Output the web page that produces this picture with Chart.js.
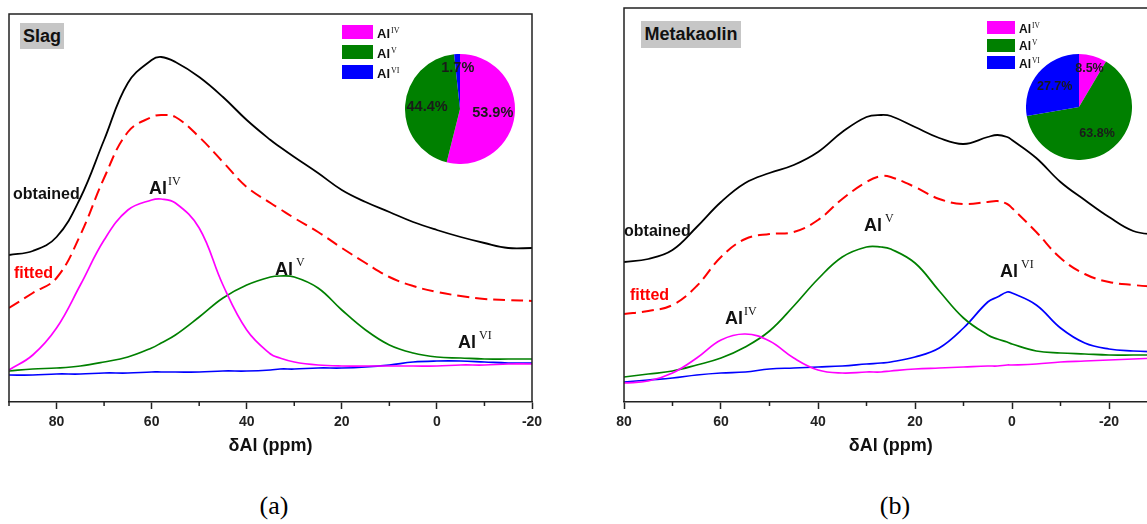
<!DOCTYPE html>
<html>
<head>
<meta charset="utf-8">
<script src="https://cdn.jsdelivr.net/npm/chart.js@4.4.1/dist/chart.umd.min.js"></script>
<style>
html, body { margin: 0; padding: 0; background: #fff; }
body { width: 1147px; height: 524px; position: relative; overflow: hidden; font-family: "Liberation Sans", Arial, sans-serif; }
canvas { position: absolute; }
.lbl { position: absolute; white-space: nowrap; line-height: 1; font-weight: bold; color: #111; }
.lbl span { font-family: "Liberation Serif", serif; font-weight: normal; position: relative; }
.tag { position: absolute; background: #c6c6c6; font-weight: bold; font-size: 18px; text-align: center; color: #111; }
.sw { position: absolute; }
.cap { position: absolute; width: 60px; text-align: center; font-family: "Liberation Serif", serif; font-size: 26px; line-height: 1; }
</style>
</head>
<body>
<canvas id="slag" width="560" height="460" style="left:0;top:0"></canvas>
<canvas id="mk" width="580" height="460" style="left:590px;top:0"></canvas>
<canvas id="slagPie" width="110" height="110" style="left:405px;top:54px"></canvas>
<canvas id="mkPie" width="106" height="106" style="left:1026px;top:54px"></canvas>
<script>
// 27Al spectra, intensity in arbitrary units above the axis
var ppmSlag = [90, 85, 80, 75, 70, 65, 60, 58, 55, 50, 45, 40, 35, 33, 30, 25, 20, 15, 10, 5, 0, -5, -10, -15, -20];
var slagObtained = [147, 151, 165, 204, 262, 319, 342, 345, 340, 325, 305, 282, 262, 255, 245, 229, 212, 200, 190, 180, 172, 165, 159, 154, 154];
var slagFitted = [94, 109, 124, 167, 224, 270, 285, 287, 285, 265, 240, 215, 199, 193, 184, 170, 154, 139, 125, 116, 110, 106, 103, 102, 101];
var slagAl4 = [32, 47, 74, 117, 162, 192, 202, 203, 199, 174, 117, 72, 48, 44, 40, 37, 36, 36, 36, 36, 36, 37, 37, 38, 38];
var slagAl5 = [31, 33, 34, 36, 40, 45, 54, 59, 67, 85, 104, 117, 125, 126, 125, 114, 92, 72, 57, 49, 45, 44, 43, 43, 43];
var slagAl6 = [27, 27, 28, 28, 29, 29, 30, 30, 30, 30, 31, 31, 32, 33, 33, 34, 34, 35, 37, 40, 41, 41, 40, 39, 39];

var ppmMk = [80, 75, 70, 65, 60, 55, 50, 45, 40, 35, 30, 27, 25, 20, 15, 10, 5, 3, 1, 0, -5, -10, -15, -20, -25, -30];
var mkObtained = [140, 143, 152, 175, 200, 219, 229, 237, 250, 270, 285, 287, 286, 275, 264, 258, 265, 267, 265, 262, 244, 220, 202, 185, 171, 167];
var mkFitted = [88, 91, 97, 116, 145, 163, 168, 170, 182, 203, 220, 226, 225, 215, 203, 198, 200, 201, 198, 194, 170, 144, 128, 120, 117, 115];
var mkAl4 = [19, 21, 29, 44, 62, 68, 61, 44, 32, 29, 30, 30, 31, 33, 34, 35, 36, 36, 37, 37, 38, 40, 41, 42, 43, 44];
var mkAl5 = [25, 28, 31, 37, 44, 55, 71, 96, 123, 145, 155, 155, 153, 139, 111, 84, 67, 63, 60, 58, 51, 49, 48, 47, 47, 47];
var mkAl6 = [20, 22, 24, 27, 29, 30, 33, 34, 35, 36, 38, 39, 40, 45, 54, 74, 100, 105, 110, 109, 97, 74, 59, 53, 51, 50];

// share of each Al site (%)
var sites = ['IV', 'V', 'VI'];
var slagShares = [53.9, 44.4, 1.7];
var mkShares = [8.5, 63.8, 27.7];

var siteColors = ['#ff00ff', '#008000', '#0000ff'];
var curveStyle = [
    { color: '#000000', width: 1.8, dash: [] },
    { color: '#ff0000', width: 2, dash: [12, 6] },
    { color: '#ff00ff', width: 1.7, dash: [] },
    { color: '#008000', width: 1.7, dash: [] },
    { color: '#0000ff', width: 1.7, dash: [] }
];

// left/top/right box plus short minor ticks
var frame = {
    id: 'frame',
    afterDraw: function(chart) {
        var a = chart.chartArea, c = chart.ctx, x = chart.scales.x;
        c.save();
        c.strokeStyle = '#222';
        c.lineWidth = 1.5;
        c.beginPath();
        c.moveTo(a.left, a.bottom);
        c.lineTo(a.left, a.top);
        c.lineTo(a.right, a.top);
        c.lineTo(a.right, a.bottom);
        c.stroke();
        x.ticks.forEach(function(t) {
            if (t.value % 20 === 0) return;
            var px = x.getPixelForValue(t.value);
            c.beginPath();
            c.moveTo(px, a.bottom);
            c.lineTo(px, a.bottom + 4);
            c.stroke();
        });
        c.restore();
    }
};

function spectrum(id, ppm, curves, xmin, xmax, ymax, pad) {
    var sets = curves.map(function(vals, i) {
        var s = curveStyle[i];
        return {
            data: vals,
            borderColor: s.color,
            borderWidth: s.width,
            borderDash: s.dash,
            pointRadius: 0,
            fill: false,
            tension: 0.4
        };
    });
    return new Chart(document.getElementById(id), {
        type: 'line',
        data: { labels: ppm, datasets: sets },
        options: {
            responsive: false,
            animation: false,
            events: [],
            layout: { padding: pad },
            plugins: { legend: { display: false }, tooltip: { enabled: false } },
            scales: {
                x: {
                    type: 'linear',
                    reverse: true,
                    min: xmin,
                    max: xmax,
                    afterFit: function(s) { s.height = 58; },
                    ticks: {
                        stepSize: 10,
                        autoSkip: false,
                        maxRotation: 0,
                        padding: 5,
                        color: '#222',
                        font: { family: 'Liberation Sans', weight: 'bold', size: 14 },
                        callback: function(v) { return v % 20 === 0 ? String(v) : ''; }
                    },
                    grid: {
                        drawOnChartArea: false,
                        tickLength: 7,
                        tickWidth: 1.5,
                        tickColor: function(ctx) {
                            return ctx.tick && ctx.tick.value % 20 === 0 ? '#222' : 'rgba(0,0,0,0)';
                        }
                    },
                    border: { display: true, color: '#222', width: 1.5 },
                    title: {
                        display: true,
                        text: 'δAl (ppm)',
                        color: '#111',
                        font: { family: 'Liberation Sans', weight: 'bold', size: 18 },
                        padding: { top: 0, bottom: 3 }
                    }
                },
                y: { display: false, min: 0, max: ymax }
            }
        },
        plugins: [frame]
    });
}

// percentages written inside the slices
function pieText(size) {
    return {
        id: 'pieText',
        afterDatasetsDraw: function(chart) {
            var c = chart.ctx, vals = chart.data.datasets[0].data;
            c.save();
            c.fillStyle = '#1a1a1a';
            c.font = 'bold ' + size + 'px "Liberation Sans"';
            c.textAlign = 'center';
            c.textBaseline = 'middle';
            chart.getDatasetMeta(0).data.forEach(function(arc, i) {
                var mid = (arc.startAngle + arc.endAngle) / 2;
                var f = vals[i] < 10 ? 0.75 : 0.6;
                c.fillText(vals[i].toFixed(1) + '%',
                    arc.x + Math.cos(mid) * arc.outerRadius * f,
                    arc.y + Math.sin(mid) * arc.outerRadius * f);
            });
            c.restore();
        }
    };
}

function pie(id, shares, size) {
    return new Chart(document.getElementById(id), {
        type: 'pie',
        data: {
            labels: sites.map(function(s) { return 'Al' + s; }),
            datasets: [{ data: shares, backgroundColor: siteColors, borderWidth: 0 }]
        },
        options: {
            responsive: false,
            animation: false,
            events: [],
            plugins: { legend: { display: false }, tooltip: { enabled: false } }
        },
        plugins: [pieText(size)]
    });
}

// text placed by its baseline (Liberation Sans, line-height 1)
function label(txt, sup, x, base, size, color, supSize, rise, gap) {
    var d = document.createElement('div');
    d.className = 'lbl';
    d.style.left = x + 'px';
    d.style.top = (base - 0.8465 * size) + 'px';
    d.style.fontSize = size + 'px';
    if (color) d.style.color = color;
    d.textContent = txt;
    if (sup) {
        var s = document.createElement('span');
        s.textContent = sup;
        s.style.fontSize = supSize + 'px';
        s.style.top = (-rise) + 'px';
        s.style.marginLeft = (gap || 0) + 'px';
        d.appendChild(s);
    }
    document.body.appendChild(d);
}

function tag(txt, x, y, w, h) {
    var d = document.createElement('div');
    d.className = 'tag';
    d.style.left = x + 'px';
    d.style.top = y + 'px';
    d.style.width = w + 'px';
    d.style.height = h + 'px';
    d.style.lineHeight = h + 'px';
    d.textContent = txt;
    document.body.appendChild(d);
}

function legend(x, y, w, h, step, size) {
    sites.forEach(function(s, i) {
        var b = document.createElement('div');
        b.className = 'sw';
        b.style.left = x + 'px';
        b.style.top = (y + i * step) + 'px';
        b.style.width = w + 'px';
        b.style.height = h + 'px';
        b.style.background = siteColors[i];
        document.body.appendChild(b);
        label('Al', s, x + w + 4, y + i * step + h - 1, size, null, size * 0.62, 5, 1);
    });
}

function caption(txt, cx) {
    var d = document.createElement('div');
    d.className = 'cap';
    d.style.left = (cx - 30) + 'px';
    d.style.top = '493px';
    d.textContent = txt;
    document.body.appendChild(d);
}

spectrum('slag', ppmSlag, [slagObtained, slagFitted, slagAl4, slagAl5, slagAl6], -20, 90, 388,
    { left: 9, right: 28, top: 14, bottom: 0 });
spectrum('mk', ppmMk, [mkObtained, mkFitted, mkAl4, mkAl5, mkAl6], -30, 80, 394,
    { left: 34, right: 12.5, top: 8, bottom: 0 });

pie('slagPie', slagShares, 14.5);
pie('mkPie', mkShares, 12.5);

tag('Slag', 20, 23, 44, 26);
tag('Metakaolin', 641, 21, 100, 27);
legend(342, 25, 31, 14, 20, 13);
legend(987, 21, 28, 13, 17.5, 12);

label('obtained', null, 13, 200, 16);
label('fitted', null, 14, 279, 16, '#ff0000');
label('Al', 'IV', 149, 194, 18, null, 12, 9, 1);
label('Al', 'V', 275, 275, 18, null, 12, 9, 3);
label('Al', 'VI', 458, 348, 18, null, 12, 9, 3);

label('obtained', null, 624, 237, 16);
label('fitted', null, 630, 301, 16, '#ff0000');
label('Al', 'IV', 725, 324, 18, null, 12, 9, 1);
label('Al', 'V', 864, 231, 18, null, 12, 9, 3);
label('Al', 'VI', 1000, 277, 18, null, 12, 9, 3);

caption('(a)', 274);
caption('(b)', 895);
</script>
</body>
</html>
